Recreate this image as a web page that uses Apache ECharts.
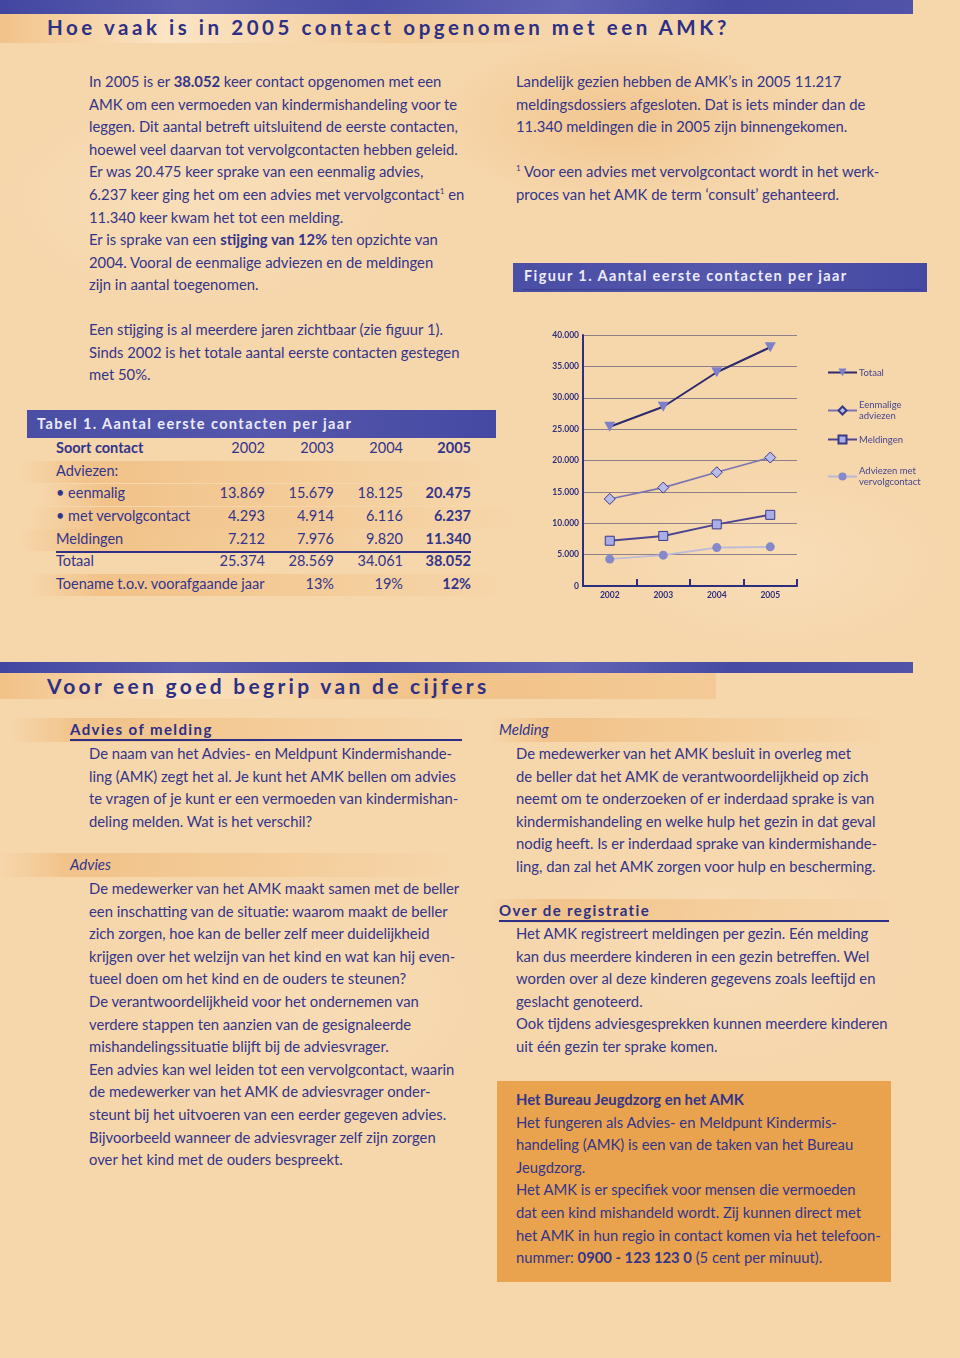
<!DOCTYPE html>
<html>
<head>
<meta charset="utf-8">
<script src="https://cdn.jsdelivr.net/npm/echarts@6/dist/echarts.min.js"></script>
<style>
html,body{margin:0;padding:0;}
body{width:960px;height:1358px;position:relative;overflow:hidden;
 background:#f6d6ab;
 background-image:
  radial-gradient(ellipse 260px 120px at 620px 120px, rgba(236,178,110,0.45), rgba(236,178,110,0) 70%),
  radial-gradient(ellipse 300px 160px at 200px 200px, rgba(250,228,196,0.6), rgba(250,228,196,0) 70%),
  radial-gradient(ellipse 260px 140px at 780px 560px, rgba(250,228,196,0.5), rgba(250,228,196,0) 70%),
  radial-gradient(ellipse 300px 200px at 300px 1000px, rgba(250,226,192,0.5), rgba(250,226,192,0) 70%),
  radial-gradient(ellipse 300px 200px at 720px 950px, rgba(250,226,192,0.5), rgba(250,226,192,0) 70%);
 font-family:Lato,"Open Sans",sans-serif;color:#33358a;}
.bar{position:absolute;background:linear-gradient(90deg,#4246a0 0%,#5a5db0 20%,#4a4ea6 40%,#6164b5 62%,#474ba3 80%,#5053a8 100%);}
.p{position:absolute;white-space:nowrap;font-size:14.8px;line-height:22.6px;}
.h1{position:absolute;white-space:nowrap;font-weight:bold;font-size:20.5px;letter-spacing:3.55px;color:#2d3084;}
.boxh{position:absolute;background:linear-gradient(90deg,#4a4ea5,#5457ab 50%,#4649a2);}
.boxh span{position:absolute;white-space:nowrap;color:#ecebf7;font-weight:bold;font-size:14.5px;letter-spacing:1.4px;}
.sub{position:absolute;white-space:nowrap;font-weight:bold;font-size:15px;letter-spacing:1.4px;color:#2d3084;}
.it{position:absolute;white-space:nowrap;font-style:italic;font-size:15px;color:#33358a;}
.band{position:absolute;background:linear-gradient(90deg,rgba(236,170,96,0),rgba(236,170,96,0.45) 15%,rgba(240,186,120,0.35) 60%,rgba(236,170,96,0));}
.cell{position:absolute;white-space:nowrap;font-size:14.5px;}
</style>
</head>
<body>
<div id="page"></div>
<div id="chart" style="position:absolute;left:515px;top:320px;width:445px;height:290px;"></div>
<script>
// ---- data ----
var years = ['2002', '2003', '2004', '2005'];
var eenmalig = [13869, 15679, 18125, 20475];
var vervolgcontact = [4293, 4914, 6116, 6237];
var meldingen = [7212, 7976, 9820, 11340];
var totaal = [25374, 28569, 34061, 38052];
var toename = [null, 13, 19, 12];
var seriesNames = ['Totaal', 'Eenmalige\nadviezen', 'Meldingen', 'Adviezen met\nvervolgcontact'];

function fmt(n){
  var s = String(n);
  return s.replace(/\B(?=(\d{3})+(?!\d))/g, '.');
}

var page = document.getElementById('page');
function add(html){ page.insertAdjacentHTML('beforeend', html); }

// top banner + title
add('<div class="band" style="left:0;top:13px;width:560px;height:30px;background:linear-gradient(90deg,rgba(238,176,104,0.5),rgba(252,232,204,0.8) 30%,rgba(240,190,130,0.4) 70%,rgba(240,190,130,0));"></div>');
add('<div class="bar" style="left:0;top:0;width:913px;height:14px;"></div>');
add('<div class="h1" style="left:47px;top:15px;">Hoe vaak is in 2005 contact opgenomen met een AMK?</div>');

// left intro paragraph
var sup1 = '<sup style="font-size:8px;vertical-align:6px;line-height:0">1</sup>';
var introLines = [
 'In 2005 is er <b>38.052</b> keer contact opgenomen met een',
 'AMK om een vermoeden van kindermishandeling voor te',
 'leggen. Dit aantal betreft uitsluitend de eerste contacten,',
 'hoewel veel daarvan tot vervolgcontacten hebben geleid.',
 'Er was 20.475 keer sprake van een eenmalig advies,',
 '6.237 keer ging het om een advies met vervolgcontact' + sup1 + ' en',
 '11.340 keer kwam het tot een melding.',
 'Er is sprake van een <b>stijging van 12%</b> ten opzichte van',
 '2004. Vooral de eenmalige adviezen en de meldingen',
 'zijn in aantal toegenomen.'
];
add('<div class="p" style="left:89px;top:70px;">' + introLines.join('<br>') + '</div>');

var rightLines = [
 'Landelijk gezien hebben de AMK’s in 2005 11.217',
 'meldingsdossiers afgesloten. Dat is iets minder dan de',
 '11.340 meldingen die in 2005 zijn binnengekomen.',
 '',
 sup1 + ' Voor een advies met vervolgcontact wordt in het werk-',
 'proces van het AMK de term ‘consult’ gehanteerd.'
];
add('<div class="p" style="left:516px;top:70px;">' + rightLines.join('<br>') + '</div>');

add('<div class="boxh" style="left:513px;top:263px;width:414px;height:29px;"><span style="left:11px;top:4px;">Figuur 1. Aantal eerste contacten per jaar</span><div style="position:absolute;left:10px;right:6px;top:26px;height:1px;background:#3a3d90"></div></div>');

var p2 = [
 'Een stijging is al meerdere jaren zichtbaar (zie figuur 1).',
 'Sinds 2002 is het totale aantal eerste contacten gestegen',
 'met 50%.'
];
add('<div class="p" style="left:89px;top:318px;">' + p2.join('<br>') + '</div>');

// table
add('<div class="boxh" style="left:27px;top:410px;width:469px;height:28px;"><span style="left:10px;top:5px;">Tabel 1. Aantal eerste contacten per jaar</span></div>');
var rowY = [449, 472, 494, 517, 540, 562, 585];
add('<div class="band" style="left:20px;top:461px;width:470px;height:22px;"></div>');
add('<div class="band" style="left:40px;top:484px;width:440px;height:22px;"></div>');
add('<div class="band" style="left:30px;top:507px;width:490px;height:22px;"></div>');
add('<div class="band" style="left:20px;top:529px;width:450px;height:22px;"></div>');
add('<div class="band" style="left:30px;top:574px;width:480px;height:22px;"></div>');
var colX = [265, 334, 403, 471];
function row(i, label, vals, boldLabel){
  var y = rowY[i] - 10;
  add('<div class="cell" style="left:56px;top:' + y + 'px;' + (boldLabel ? 'font-weight:bold;' : '') + '">' + label + '</div>');
  if (vals) {
    for (var k = 0; k < vals.length; k++) {
      if (vals[k] === null || vals[k] === '') continue;
      add('<div class="cell" style="right:' + (960 - colX[k]) + 'px;top:' + y + 'px;' + (k === 3 ? 'font-weight:bold;' : '') + '">' + vals[k] + '</div>');
    }
  }
}
row(0, 'Soort contact', years, true);
row(1, 'Adviezen:', null);
row(2, '• eenmalig', eenmalig.map(fmt));
row(3, '• met vervolgcontact', vervolgcontact.map(fmt));
row(4, 'Meldingen', meldingen.map(fmt));
add('<div style="position:absolute;left:56px;top:551px;width:415px;height:1.5px;background:#2d3084"></div>');
row(5, 'Totaal', totaal.map(fmt));
row(6, 'Toename t.o.v. voorafgaande jaar', toename.map(function(v){ return v === null ? null : v + '%'; }));

// second section
add('<div class="band" style="left:0;top:673px;width:716px;height:26px;background:linear-gradient(90deg,rgba(238,176,104,0.55),rgba(252,230,200,0.8) 25%,rgba(238,176,104,0.55) 60%,rgba(238,176,104,0.3));"></div>');
add('<div class="bar" style="left:0;top:662px;width:913px;height:11px;"></div>');
add('<div class="h1" style="left:47px;top:673px;font-size:21px;letter-spacing:3.3px;">Voor een goed begrip van de cijfers</div>');

add('<div class="band" style="left:10px;top:718px;width:460px;height:24px;"></div>');
add('<div class="sub" style="left:70px;top:720px;">Advies of melding</div>');
add('<div style="position:absolute;left:70px;top:739px;width:392px;height:1.5px;background:#2d3084"></div>');
var am = [
 'De naam van het Advies- en Meldpunt Kindermishande-',
 'ling (AMK) zegt het al. Je kunt het AMK bellen om advies',
 'te vragen of je kunt er een vermoeden van kindermishan-',
 'deling melden. Wat is het verschil?'
];
add('<div class="p" style="left:89px;top:742px;">' + am.join('<br>') + '</div>');

add('<div class="band" style="left:0px;top:853px;width:460px;height:24px;"></div>');
add('<div class="it" style="left:70px;top:855px;">Advies</div>');
var adv = [
 'De medewerker van het AMK maakt samen met de beller',
 'een inschatting van de situatie: waarom maakt de beller',
 'zich zorgen, hoe kan de beller zelf meer duidelijkheid',
 'krijgen over het welzijn van het kind en wat kan hij even-',
 'tueel doen om het kind en de ouders te steunen?',
 'De verantwoordelijkheid voor het ondernemen van',
 'verdere stappen ten aanzien van de gesignaleerde',
 'mishandelingssituatie blijft bij de adviesvrager.',
 'Een advies kan wel leiden tot een vervolgcontact, waarin',
 'de medewerker van het AMK de adviesvrager onder-',
 'steunt bij het uitvoeren van een eerder gegeven advies.',
 'Bijvoorbeeld wanneer de adviesvrager zelf zijn zorgen',
 'over het kind met de ouders bespreekt.'
];
add('<div class="p" style="left:89px;top:877px;">' + adv.join('<br>') + '</div>');

add('<div class="band" style="left:490px;top:718px;width:400px;height:24px;"></div>');
add('<div class="it" style="left:499px;top:720px;">Melding</div>');
var mel = [
 'De medewerker van het AMK besluit in overleg met',
 'de beller dat het AMK de verantwoordelijkheid op zich',
 'neemt om te onderzoeken of er inderdaad sprake is van',
 'kindermishandeling en welke hulp het gezin in dat geval',
 'nodig heeft. Is er inderdaad sprake van kindermishande-',
 'ling, dan zal het AMK zorgen voor hulp en bescherming.'
];
add('<div class="p" style="left:516px;top:742px;">' + mel.join('<br>') + '</div>');

add('<div class="band" style="left:490px;top:899px;width:420px;height:24px;"></div>');
add('<div class="sub" style="left:499px;top:901px;">Over de registratie</div>');
add('<div style="position:absolute;left:499px;top:920px;width:390px;height:1.5px;background:#2d3084"></div>');
var reg = [
 'Het AMK registreert meldingen per gezin. Eén melding',
 'kan dus meerdere kinderen in een gezin betreffen. Wel',
 'worden over al deze kinderen gegevens zoals leeftijd en',
 'geslacht genoteerd.',
 'Ook tijdens adviesgesprekken kunnen meerdere kinderen',
 'uit één gezin ter sprake komen.'
];
add('<div class="p" style="left:516px;top:922px;">' + reg.join('<br>') + '</div>');

add('<div style="position:absolute;left:497px;top:1081px;width:394px;height:201px;background:#e9a24e;"></div>');
var bj = [
 '<b>Het Bureau Jeugdzorg en het AMK</b>',
 'Het fungeren als Advies- en Meldpunt Kindermis-',
 'handeling (AMK) is een van de taken van het Bureau',
 'Jeugdzorg.',
 'Het AMK is er specifiek voor mensen die vermoeden',
 'dat een kind mishandeld wordt. Zij kunnen direct met',
 'het AMK in hun regio in contact komen via het telefoon-',
 'nummer: <b>0900 - 123 123 0</b> (5 cent per minuut).'
];
add('<div class="p" style="left:516px;top:1088px;">' + bj.join('<br>') + '</div>');

// ---- chart ----
var navy = '#2d2f7e';
var chart = echarts.init(document.getElementById('chart'));
var triDown = 'path://M0,0 L10,0 L5,9 Z';
function legendAt(name, top, twoLine){
  return {
    data: [name], left: 307, top: top, orient: 'vertical',
    itemWidth: 29, itemHeight: 10, itemGap: 0, selectedMode: false,
    textStyle: { color: '#45478f', fontSize: 9.5, lineHeight: 11, padding: twoLine ? [11, 0, 0, -3] : [0, 0, 0, -3], fontFamily: 'Lato, sans-serif' }
  };
}
chart.setOption({
  animation: false,
  grid: { left: 68, right: 163, top: 15, bottom: 24 },
  legend: [
    legendAt(seriesNames[0], 42, false),
    legendAt(seriesNames[1], 69, true),
    legendAt(seriesNames[2], 109, false),
    legendAt(seriesNames[3], 135, true)
  ],
  xAxis: {
    type: 'category', data: years, boundaryGap: true,
    axisLine: { lineStyle: { color: navy, width: 2 } },
    axisTick: { show: true, inside: true, length: 7, lineStyle: { color: navy, width: 2 } },
    axisLabel: { color: navy, fontSize: 8.5, fontWeight: 'bold', margin: 5, fontFamily: 'Lato, sans-serif' }
  },
  yAxis: {
    type: 'value', min: 0, max: 40000, interval: 5000,
    axisLine: { show: true, lineStyle: { color: navy, width: 2 } },
    axisTick: { show: false },
    axisLabel: { color: navy, fontSize: 8.5, fontWeight: 'bold', margin: 4, fontFamily: 'Lato, sans-serif',
      formatter: function(v){ return fmt(v); } },
    splitLine: { lineStyle: { color: '#8e8088', width: 1 } }
  },
  series: [
    { name: seriesNames[0], type: 'line', data: totaal, symbol: triDown, symbolSize: [11, 10],
      lineStyle: { color: '#2c2a6c', width: 2 }, itemStyle: { color: '#7d80c8', borderWidth: 0 } },
    { name: seriesNames[1], type: 'line', data: eenmalig, symbol: 'diamond', symbolSize: 11,
      lineStyle: { color: '#7a74b0', width: 1.6 }, itemStyle: { color: '#b9bce9', borderColor: '#3a3a84', borderWidth: 1 } },
    { name: seriesNames[2], type: 'line', data: meldingen, symbol: 'rect', symbolSize: 9,
      lineStyle: { color: '#4d4591', width: 2 }, itemStyle: { color: '#a9aee7', borderColor: '#3b3886', borderWidth: 1 } },
    { name: seriesNames[3], type: 'line', data: vervolgcontact, symbol: 'circle', symbolSize: 9,
      lineStyle: { color: '#b9b9d8', width: 1.6 }, itemStyle: { color: '#8588c9', borderWidth: 0 } }
  ]
});
</script>
</body>
</html>
